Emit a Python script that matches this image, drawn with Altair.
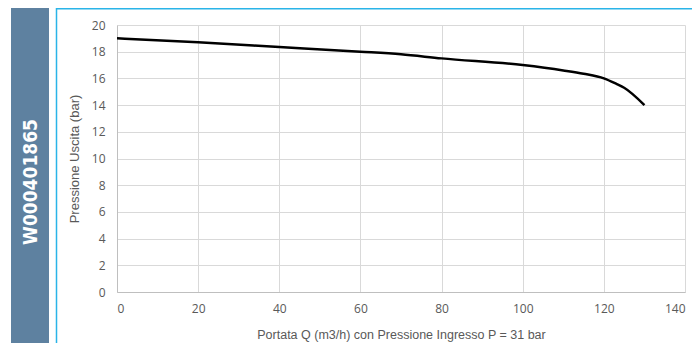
import altair as alt
import pandas as pd

portata = [0, 20, 40, 60, 70, 80, 100, 110, 115, 120, 123, 125, 130]
pressione = [19.0, 18.7, 18.35, 18.0, 17.8, 17.5, 17.0, 16.6, 16.35, 16.0, 15.6, 15.3, 14.0]
x_ticks = [0, 20, 40, 60, 80, 100, 120, 140]
y_ticks = [0, 2, 4, 6, 8, 10, 12, 14, 16, 18, 20]
code_label = "W000401865"

df = pd.DataFrame({"q": portata, "p": pressione})

W, H = 568, 267
LEFT, TOP = 109, 17
TOTW, TOTH = 684, 335

line = alt.Chart(df).mark_line(color="black", strokeWidth=2.5, interpolate="monotone").encode(
    x=alt.X("q:Q", scale=alt.Scale(domain=[0, 140], nice=False),
            axis=alt.Axis(values=x_ticks, title="Portata Q (m3/h) con Pressione Ingresso P = 31 bar",
                          grid=True, gridColor="#d9d9d9", ticks=False, domainColor="#bfbfbf",
                          labelColor="#595959", labelFontSize=12, labelPadding=11,
                          labelFont="Open Sans", titleFont="Liberation Sans", titleFontWeight="normal",
                          titleFontSize=12.5, titleColor="#595959", titlePadding=14)),
    y=alt.Y("p:Q", scale=alt.Scale(domain=[0, 20], nice=False),
            axis=alt.Axis(values=y_ticks, title="Pressione Uscita (bar)",
                          grid=True, gridColor="#d9d9d9", ticks=False, domainColor="#bfbfbf",
                          labelColor="#595959", labelFontSize=12, labelPadding=12,
                          labelFont="Open Sans", titleFont="Liberation Sans", titleFontWeight="normal",
                          titleFontSize=13, titleColor="#595959", titlePadding=10)),
)

band = alt.Chart(pd.DataFrame({"a": [0]})).mark_rect(color="#5e81a0").encode(
    x=alt.value(11 - 8 - LEFT), x2=alt.value(49 - 8 - LEFT),
    y=alt.value(-TOP), y2=alt.value(TOTH - TOP),
)

vline = alt.Chart(pd.DataFrame({"a": [0]})).mark_rule(color="#2ab4e8", strokeWidth=1.5).encode(
    x=alt.value(56.5 - 8 - LEFT), y=alt.value(-TOP), y2=alt.value(TOTH - TOP),
)
hline = alt.Chart(pd.DataFrame({"a": [0]})).mark_rule(color="#2ab4e8", strokeWidth=1.5).encode(
    y=alt.value(-TOP + 0.75), x=alt.value(56.5 - 8 - LEFT), x2=alt.value(TOTW - LEFT),
)

label = alt.Chart(pd.DataFrame({"t": [code_label]})).mark_text(
    color="white", font="'Liberation Sans Narrow', 'DejaVu Sans Condensed', 'DejaVu Sans', sans-serif",
    fontWeight="bold", fontSize=19, angle=270,
    align="center", baseline="middle",
).encode(
    text="t:N", x=alt.value(30.5 - 8 - LEFT), y=alt.value(182 - 8 - TOP),
)

chart = alt.layer(band, vline, hline, label, line).properties(
    width=W, height=H,
    padding={"left": LEFT, "top": TOP, "right": TOTW - LEFT - W, "bottom": TOTH - TOP - H},
    autosize=alt.AutoSizeParams(type="none"),
    background="white",
).configure_view(stroke=None)

chart.save("out.html", embed_options={"renderer": "svg", "actions": False})
